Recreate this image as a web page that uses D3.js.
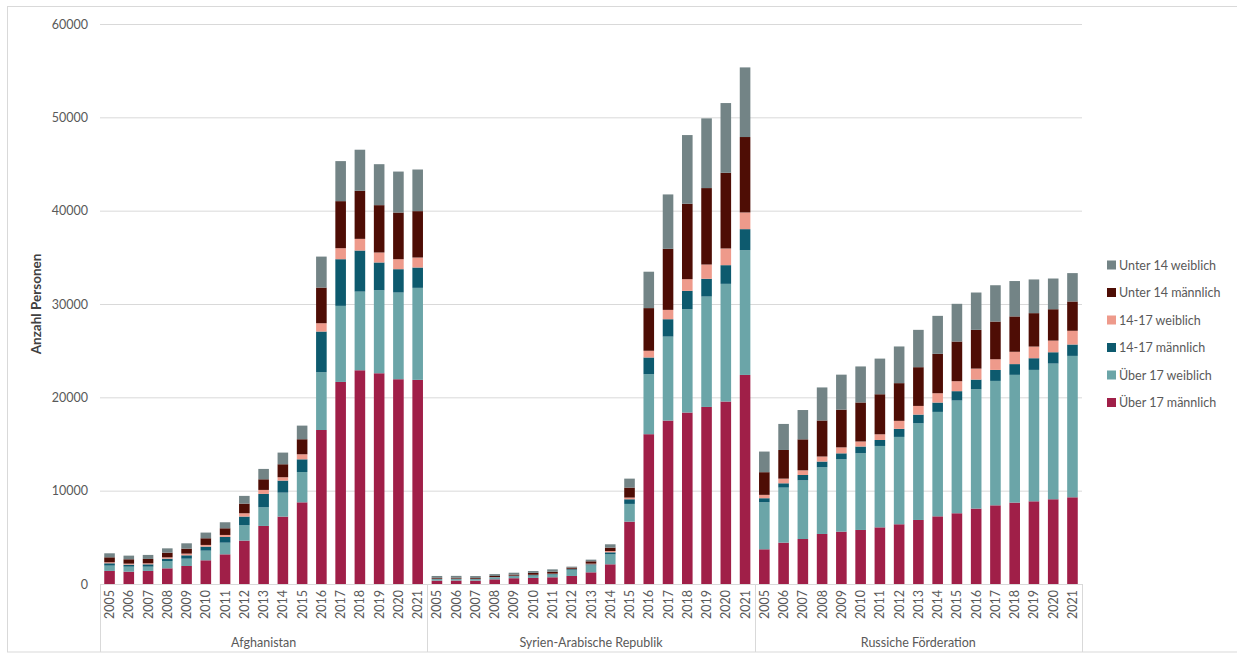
<!DOCTYPE html>
<html>
<head>
<meta charset="utf-8">
<script src="https://cdn.jsdelivr.net/npm/d3@7"></script>
<style>
  html, body { margin: 0; padding: 0; background: #ffffff; }
  svg { display: block; font-family: Lato, "Open Sans", sans-serif; }
</style>
</head>
<body>
<svg id="chart" width="1237" height="655"></svg>
<script>
// ---- Data ----
const countries = ["Afghanistan", "Syrien-Arabische Republik", "Russiche Förderation"];
const years = ["2005","2006","2007","2008","2009","2010","2011","2012","2013","2014","2015","2016","2017","2018","2019","2020","2021"];
const yTicks = [0, 10000, 20000, 30000, 40000, 50000, 60000];
const seriesNames = ["Über 17 männlich", "Über 17 weiblich", "14-17 männlich", "14-17 weiblich", "Unter 14 männlich", "Unter 14 weiblich"];
const seriesColors = ["#a01f48", "#6ba5a8", "#0d5a6e", "#ee9a8b", "#4e0d05", "#738486"];

// values per series: Afghanistan 2005-2021, Syrien 2005-2021, Russland 2005-2021
const ueber17m = [
  1400,1320,1400,1680,1930,2540,3180,4650,6220,7220,8750,16500,21650,22900,22580,21940,21870,
  360,370,360,500,620,650,720,860,1250,2110,6680,16050,17510,18370,18970,19550,22400,
  3720,4430,4820,5360,5610,5790,6070,6400,6860,7250,7580,8080,8430,8720,8860,9080,9290];
const ueber17w = [
  570,540,460,785,785,1035,1250,1645,2000,2570,3250,6190,8150,8430,8900,9290,9860,
  150,150,140,180,200,250,300,640,750,1070,1900,6430,9000,11080,11830,12610,13370,
  5040,5900,6290,7150,7750,8220,8720,9360,10360,11190,12080,12790,13330,13690,14080,14540,15150];
const m14_17 = [
  250,210,250,250,360,430,610,930,1430,1290,1360,4360,5000,4400,2970,2500,2180,
  40,40,40,50,50,60,60,90,110,215,500,1790,1860,1960,1900,2000,2250,
  430,460,570,610,640,720,640,860,930,1000,1000,1030,1180,1150,1250,1210,1220];
const w14_17 = [
  110,110,110,140,180,180,215,355,430,360,540,890,1180,1250,1070,1070,1070,
  20,20,20,20,20,30,30,40,70,140,180,720,1000,1250,1530,1790,1790,
  360,500,500,540,640,540,610,860,930,1000,1070,1180,1140,1320,1250,1250,1470];
const unter14m = [
  530,470,465,500,535,715,715,1035,1140,1390,1610,3820,5040,5150,5070,5000,4970,
  90,90,90,110,120,200,200,130,250,360,1070,4570,6540,8080,8190,8110,8080,
  2430,3070,3320,3860,4040,4180,4290,4040,4150,4220,4250,4150,4040,3790,3580,3360,3140];
const unter14w = [
  430,390,430,465,570,610,645,825,1110,1250,1460,3320,4290,4400,4390,4390,4460,
  200,200,200,200,200,200,260,100,180,360,960,3900,5830,7360,7470,7470,7460,
  2210,2790,3140,3540,3750,3860,3820,3930,4000,4070,4040,4000,3890,3790,3610,3290,3040];

const seriesValues = [ueber17m, ueber17w, m14_17, w14_17, unter14m, unter14w];

// ---- Build table ----
const rows = [];
countries.forEach((c, ci) => {
  years.forEach((y, yi) => {
    const idx = ci * years.length + yi;
    const row = { key: c + "|" + y, country: c, year: y };
    seriesNames.forEach((s, si) => { row[s] = seriesValues[si][idx]; });
    rows.push(row);
  });
});

// ---- Layout ----
const svg = d3.select("#chart");
const plotL = 100, plotR = 1082, plotT = 24, plotB = 584;
const textColor = "#595959";
const gridColor = "#d9d9d9";

// outer frame
svg.append("rect").attr("x", 7.5).attr("y", 6.5).attr("width", 1240).attr("height", 645.5)
  .attr("fill", "none").attr("stroke", gridColor).attr("stroke-width", 1);

const x = d3.scaleBand().domain(rows.map(r => r.key)).range([plotL, plotR]).paddingInner(0.45).paddingOuter(0.22);
const y = d3.scaleLinear().domain([0, 60000]).range([plotB, plotT]);

// gridlines + y labels via axis
const yAxis = d3.axisLeft(y).tickValues(yTicks).tickSize(-(plotR - plotL)).tickPadding(12).tickFormat(d3.format("d"));
const gy = svg.append("g").attr("transform", `translate(${plotL},0)`).call(yAxis);
gy.select(".domain").remove();
gy.selectAll(".tick line").attr("stroke", gridColor).attr("stroke-width", 1);
gy.selectAll(".tick text").attr("fill", textColor).attr("font-size", 12.5).attr("font-family", "Lato, sans-serif");

// stacked bars
const stack = d3.stack().keys(seriesNames);
const stacked = stack(rows);
svg.append("g").selectAll("g").data(stacked).join("g")
  .attr("fill", (d, i) => seriesColors[i])
  .selectAll("rect").data(d => d).join("rect")
  .attr("x", d => x(d.data.key))
  .attr("width", x.bandwidth())
  .attr("y", d => y(d[1]))
  .attr("height", d => y(d[0]) - y(d[1]));

// x axis baseline and group boxes
const axisG = svg.append("g");
axisG.append("line").attr("x1", plotL).attr("x2", plotR).attr("y1", plotB + 0.5).attr("y2", plotB + 0.5)
  .attr("stroke", gridColor);
const groupW = (plotR - plotL) / countries.length;
const bounds = d3.range(countries.length + 1).map(i => plotL + i * groupW);
bounds.forEach(bx => {
  axisG.append("line").attr("x1", Math.round(bx) + 0.5).attr("x2", Math.round(bx) + 0.5)
    .attr("y1", plotB).attr("y2", 652).attr("stroke", gridColor);
});

// year labels (rotated)
axisG.selectAll("text.year").data(rows).join("text")
  .attr("class", "year")
  .attr("transform", d => `translate(${x(d.key) + x.bandwidth() / 2 + 4.5},${plotB + 6}) rotate(-90)`)
  .attr("text-anchor", "end")
  .attr("fill", textColor).attr("font-size", 12.5)
  .text(d => d.year);

// country labels
axisG.selectAll("text.country").data(countries).join("text")
  .attr("class", "country")
  .attr("x", (d, i) => bounds[i] + groupW / 2)
  .attr("y", 647)
  .attr("text-anchor", "middle")
  .attr("fill", textColor).attr("font-size", 12.5)
  .text(d => d);

// y axis title
svg.append("text")
  .attr("transform", `translate(41,${(plotT + plotB) / 2}) rotate(-90)`)
  .attr("text-anchor", "middle")
  .attr("fill", "#404040").attr("font-size", 13.5).attr("font-weight", "bold")
  .text("Anzahl Personen");

// legend (reverse order: top = Unter 14 weiblich)
const legendOrder = seriesNames.map((s, i) => i).reverse();
const lg = svg.append("g").selectAll("g").data(legendOrder).join("g")
  .attr("transform", (d, i) => `translate(1107,${265 + i * 27.5})`);
lg.append("rect").attr("x", 0).attr("y", -4.5).attr("width", 9).attr("height", 9)
  .attr("fill", d => seriesColors[d]);
lg.append("text").attr("x", 12).attr("y", 4.5)
  .attr("fill", textColor).attr("font-size", 12.5)
  .text(d => seriesNames[d]);
</script>
</body>
</html>
